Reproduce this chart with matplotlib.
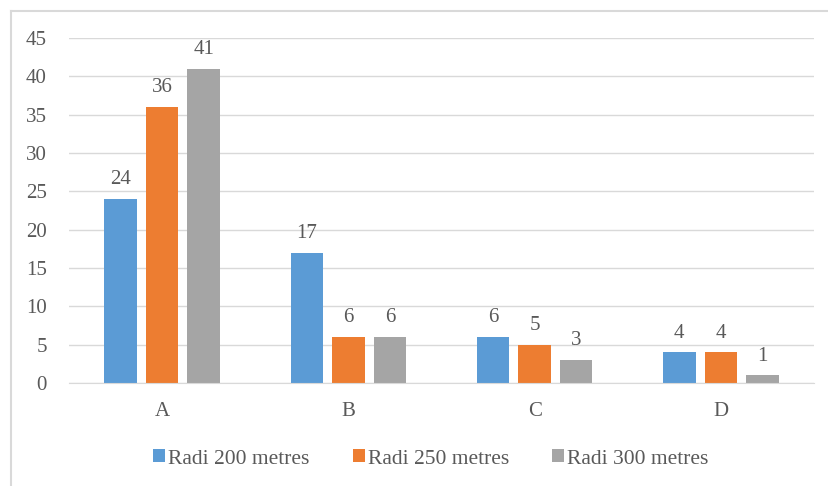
import matplotlib
matplotlib.use("Agg")
import matplotlib.pyplot as plt
from matplotlib.lines import Line2D
import numpy as np

categories = ["A", "B", "C", "D"]
series_names = ["Radi 200 metres", "Radi 250 metres", "Radi 300 metres"]
radi_200 = [24, 17, 6, 4]
radi_250 = [36, 6, 5, 4]
radi_300 = [41, 6, 3, 1]
colors = ["#5B9BD5", "#ED7D31", "#A5A5A5"]

plt.rcParams["font.family"] = ["Liberation Serif", "DejaVu Serif"]
text_color = "#595959"
fs = 15

W, H = 829, 486
fig = plt.figure(figsize=(W / 100, H / 100), dpi=100)
ax = fig.add_axes([69 / W, 1 - 383 / H, (814 - 69) / W, (383 - 38) / H])

x = np.arange(len(categories))
bar_w = 0.175
pitch = 0.223
for i, (vals, name, c) in enumerate(zip([radi_200, radi_250, radi_300], series_names, colors)):
    bars = ax.bar(x + (i - 1) * pitch, vals, width=bar_w, color=c, label=name, zorder=3)
    for b, v in zip(bars, vals):
        ax.annotate(str(v), (b.get_x() + b.get_width() / 2, v), xytext=(0, 10.5),
                    textcoords="offset points", ha="center", va="baseline",
                    fontsize=fs, color=text_color)

ax.set_xlim(-0.5, len(categories) - 0.5)
ax.set_ylim(0, 45)
ax.set_yticks(range(0, 46, 5))
ax.set_xticks(x)
ax.set_xticklabels(categories)
ax.grid(axis="y", color="#D9D9D9", linewidth=1, zorder=0)
ax.tick_params(axis="both", length=0, labelsize=fs, labelcolor=text_color)
ax.tick_params(axis="y", pad=16)
ax.tick_params(axis="x", pad=14)
for side in ["top", "right", "left"]:
    ax.spines[side].set_visible(False)
ax.spines["bottom"].set_color("#D9D9D9")
ax.spines["bottom"].set_zorder(4)

leg = fig.legend(loc="center", bbox_to_anchor=(431 / W, 1 - 459 / H), ncol=3,
                 frameon=False, fontsize=15.5, handlelength=0.55, handleheight=0.55,
                 handletextpad=0.15, columnspacing=2.0)
for t in leg.get_texts():
    t.set_color(text_color)

# chart frame edges
fig.add_artist(Line2D([11 / W, 11 / W], [0, 1 - 11 / H], color="#D9D9D9", linewidth=1.5,
                      transform=fig.transFigure))
fig.add_artist(Line2D([11 / W, 1], [1 - 11 / H, 1 - 11 / H], color="#D9D9D9", linewidth=1.5,
                      transform=fig.transFigure))

fig.savefig("out.png", dpi=100)
